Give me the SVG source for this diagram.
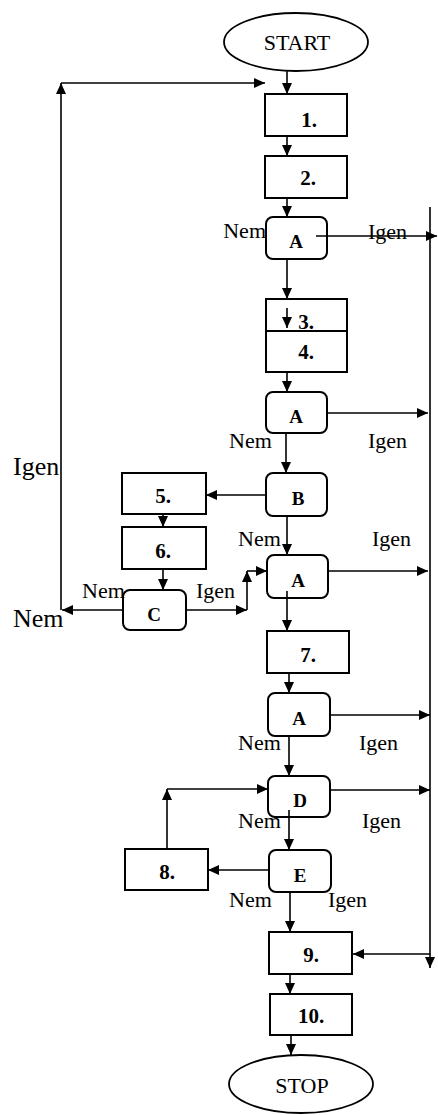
<svg xmlns="http://www.w3.org/2000/svg" width="438" height="1115" viewBox="0 0 438 1115">
<style>
.box{fill:none;stroke:#000;stroke-width:2}
.term{fill:none;stroke:#000;stroke-width:1.8}
.dec{fill:none;stroke:#000;stroke-width:2}
.num{font-family:"Liberation Serif",serif;font-weight:bold;font-size:21px;text-anchor:middle}
.let{font-family:"Liberation Serif",serif;font-weight:bold;font-size:19px;text-anchor:middle}
.tt{font-family:"Liberation Serif",serif;font-size:22px;text-anchor:middle}
.lb{font-family:"Liberation Serif",serif;font-size:22px}
.big{font-family:"Liberation Serif",serif;font-size:26px}
.c{fill:none;stroke:#000;stroke-width:1.6}
</style>
<defs>
<marker id="ah" markerUnits="userSpaceOnUse" markerWidth="11" markerHeight="10" refX="11" refY="5" orient="auto">
<path d="M0,0 L11,5 L0,10 z" fill="#000"/>
</marker>
</defs>
<g id="connectors">
<path class="c" d="M287,71 V94" marker-end="url(#ah)"/>
<path class="c" d="M287,136 V156" marker-end="url(#ah)"/>
<path class="c" d="M287,198 V217" marker-end="url(#ah)"/>
<path class="c" d="M316,236 H437" marker-end="url(#ah)"/>
<path class="c" d="M287,259 V299" marker-end="url(#ah)"/>
<path class="c" d="M287,308 V328" marker-end="url(#ah)"/>
<path class="c" d="M287,372 V392" marker-end="url(#ah)"/>
<path class="c" d="M327,413 H428" marker-end="url(#ah)"/>
<path class="c" d="M286,433 V473" marker-end="url(#ah)"/>
<path class="c" d="M266,495 H206" marker-end="url(#ah)"/>
<path class="c" d="M163,514 V527" marker-end="url(#ah)"/>
<path class="c" d="M163,569 V590" marker-end="url(#ah)"/>
<path class="c" d="M123,610 H62" marker-end="url(#ah)"/>
<path class="c" d="M61,610 V83" marker-end="url(#ah)"/>
<path class="c" d="M61,83 H265" marker-end="url(#ah)"/>
<path class="c" d="M186,610 H247" marker-end="url(#ah)"/>
<path class="c" d="M247,610 V571" marker-end="url(#ah)"/>
<path class="c" d="M247,571 H267" marker-end="url(#ah)"/>
<path class="c" d="M287,516 V555" marker-end="url(#ah)"/>
<path class="c" d="M328,571 H428" marker-end="url(#ah)"/>
<path class="c" d="M287,591 V631" marker-end="url(#ah)"/>
<path class="c" d="M289,673 V693" marker-end="url(#ah)"/>
<path class="c" d="M330,715 H430" marker-end="url(#ah)"/>
<path class="c" d="M289,736 V776" marker-end="url(#ah)"/>
<path class="c" d="M330,790 H430" marker-end="url(#ah)"/>
<path class="c" d="M167,849 V789" marker-end="url(#ah)"/>
<path class="c" d="M167,789 H268" marker-end="url(#ah)"/>
<path class="c" d="M289,810 V850" marker-end="url(#ah)"/>
<path class="c" d="M269,870 H208" marker-end="url(#ah)"/>
<path class="c" d="M290,892 V932" marker-end="url(#ah)"/>
<path class="c" d="M430,207 V968" marker-end="url(#ah)"/>
<path class="c" d="M430,954 H353" marker-end="url(#ah)"/>
<path class="c" d="M290,974 V994" marker-end="url(#ah)"/>
<path class="c" d="M291,1035 V1055" marker-end="url(#ah)"/>
</g>
<g id="start"><ellipse class="term" cx="296" cy="42" rx="72" ry="29"/><text class="tt" x="297" y="50">START</text></g>
<g id="n1"><rect class="box" x="265" y="94" width="82" height="42"/><text class="num" x="309" y="127">1.</text></g>
<g id="n2"><rect class="box" x="265" y="156" width="82" height="42"/><text class="num" x="308" y="185">2.</text></g>
<g id="a1"><rect class="dec" x="266" y="217" width="61" height="42" rx="7"/><text class="let" x="296" y="248">A</text></g>
<g id="n3"><rect class="box" x="266" y="299" width="81" height="32"/><text class="num" x="306" y="329">3.</text></g>
<g id="n4"><rect class="box" x="266" y="331" width="81" height="41"/><text class="num" x="306" y="359">4.</text></g>
<g id="a2"><rect class="dec" x="266" y="392" width="61" height="41" rx="7"/><text class="let" x="296" y="423">A</text></g>
<g id="b"><rect class="dec" x="266" y="473" width="61" height="43" rx="7"/><text class="let" x="298" y="505">B</text></g>
<g id="n5"><rect class="box" x="122" y="473" width="84" height="41"/><text class="num" x="163" y="503">5.</text></g>
<g id="n6"><rect class="box" x="122" y="527" width="84" height="42"/><text class="num" x="163" y="558">6.</text></g>
<g id="c"><rect class="dec" x="123" y="590" width="63" height="40" rx="7"/><text class="let" x="154" y="621">C</text></g>
<g id="a3"><rect class="dec" x="267" y="555" width="61" height="43" rx="7"/><text class="let" x="298" y="587">A</text></g>
<g id="n7"><rect class="box" x="267" y="631" width="82" height="42"/><text class="num" x="308" y="662">7.</text></g>
<g id="a4"><rect class="dec" x="268" y="693" width="62" height="43" rx="7"/><text class="let" x="299" y="725">A</text></g>
<g id="d"><rect class="dec" x="268" y="776" width="62" height="41" rx="7"/><text class="let" x="300" y="807">D</text></g>
<g id="n8"><rect class="box" x="125" y="849" width="83" height="41"/><text class="num" x="167" y="879">8.</text></g>
<g id="e"><rect class="dec" x="269" y="850" width="62" height="42" rx="7"/><text class="let" x="300" y="882">E</text></g>
<g id="n9"><rect class="box" x="269" y="932" width="83" height="42"/><text class="num" x="311" y="962">9.</text></g>
<g id="n10"><rect class="box" x="270" y="994" width="82" height="41"/><text class="num" x="311" y="1023">10.</text></g>
<g id="stop"><ellipse class="term" cx="301" cy="1084" rx="72" ry="29"/><text class="tt" x="302" y="1093">STOP</text></g>
<g id="labels">
<text class="lb" x="266" y="238" text-anchor="end">Nem</text>
<text class="lb" x="368" y="239">Igen</text>
<text class="lb" x="229" y="448">Nem</text>
<text class="lb" x="368" y="448">Igen</text>
<text class="lb" x="238" y="546">Nem</text>
<text class="lb" x="372" y="546">Igen</text>
<text class="lb" x="82" y="598">Nem</text>
<text class="lb" x="196" y="598">Igen</text>
<text class="big" x="13" y="475">Igen</text>
<text class="big" x="13" y="627">Nem</text>
<text class="lb" x="238" y="750">Nem</text>
<text class="lb" x="359" y="750">Igen</text>
<text class="lb" x="238" y="828">Nem</text>
<text class="lb" x="362" y="828">Igen</text>
<text class="lb" x="229" y="907">Nem</text>
<text class="lb" x="328" y="907">Igen</text>
</g>
</svg>
